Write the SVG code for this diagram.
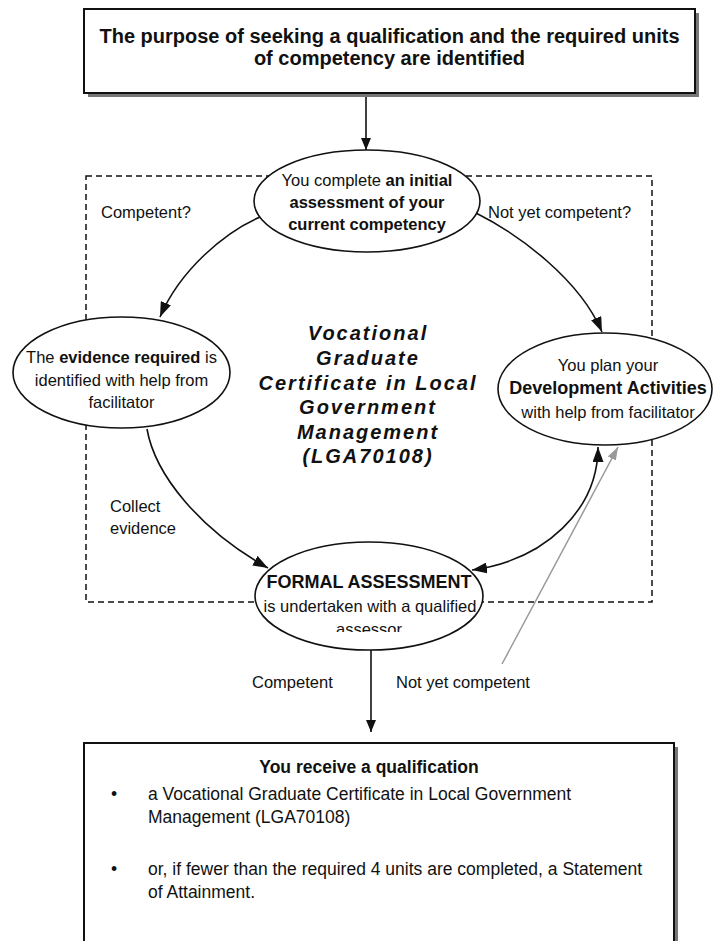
<svg xmlns="http://www.w3.org/2000/svg" width="713" height="941" viewBox="0 0 713 941">
<style>
text{font-family:"Liberation Sans",Arial,sans-serif;fill:#111}
.t{font-size:16.5px}
.b{font-weight:bold}
.ttl{font-size:20px;font-weight:bold}
.voc{font-size:20px;font-weight:bold;font-style:italic;letter-spacing:2px}
.bx{font-size:17.5px}
.node{fill:#fff;stroke:#111;stroke-width:1.6}
.box{fill:#fff;stroke:#111;stroke-width:2}
.shadow{fill:#777}
.con{fill:none;stroke:#111;stroke-width:1.6}
.gray{fill:none;stroke:#999;stroke-width:1.5}
.dash{fill:none;stroke:#111;stroke-width:1.5;stroke-dasharray:6 4}
</style>
<defs>
<marker id="ah" markerWidth="15" markerHeight="11" refX="15" refY="5.5" orient="auto-start-reverse" markerUnits="userSpaceOnUse"><path d="M0,0 L15,5.5 L0,11 z" fill="#111"/></marker>
<marker id="ahs" markerWidth="12" markerHeight="10" refX="12" refY="5" orient="auto" markerUnits="userSpaceOnUse"><path d="M0,0 L12,5 L0,10 z" fill="#111"/></marker>
<marker id="ahg" markerWidth="13" markerHeight="9" refX="13" refY="4.5" orient="auto" markerUnits="userSpaceOnUse"><path d="M0,0 L13,4.5 L0,9 z" fill="#999"/></marker>
<clipPath id="clipA"><rect x="250" y="600" width="240" height="32"/></clipPath>
</defs>
<rect width="713" height="941" fill="#fff"/>

<g id="boundary">
<rect class="dash" x="86" y="176" width="566" height="426"/>
</g>

<g id="title-box">
<rect class="shadow" x="88" y="13" width="611" height="84"/>
<rect class="box" x="84" y="9" width="611" height="84"/>
<text class="ttl" x="389.5" y="43" text-anchor="middle">The purpose of seeking a qualification and the required units</text>
<text class="ttl" x="389.5" y="65" text-anchor="middle">of competency are identified</text>
</g>

<g id="centre-label">
<text class="voc" x="368" y="340" text-anchor="middle">Vocational</text>
<text class="voc" x="368" y="365" text-anchor="middle">Graduate</text>
<text class="voc" x="368" y="390" text-anchor="middle">Certificate in Local</text>
<text class="voc" x="368" y="414" text-anchor="middle">Government</text>
<text class="voc" x="368" y="439" text-anchor="middle">Management</text>
<text class="voc" x="368" y="463" text-anchor="middle">(LGA70108)</text>
</g>

<g id="connectors">
<path class="con" d="M366,97 L366,150" marker-end="url(#ahs)"/>
<path class="con" d="M260,217 C225,232 180,270 160,317" marker-end="url(#ah)"/>
<path class="con" d="M476,213 C520,235 580,280 602,332" marker-end="url(#ah)"/>
<path class="con" d="M147,429 C155,475 200,530 268,568" marker-end="url(#ah)"/>
<path class="con" d="M472,570 C545,560 598,510 598,447" marker-start="url(#ah)" marker-end="url(#ah)"/>
<path class="gray" d="M502,664 L618,447" marker-end="url(#ahg)"/>
<path class="con" d="M371,650 L371,732" marker-end="url(#ahs)"/>
<text class="t" x="101" y="218">Competent?</text>
<text class="t" x="488" y="218">Not yet competent?</text>
<text class="t" x="110" y="512">Collect</text>
<text class="t" x="110" y="534">evidence</text>
<text class="t" x="252" y="688">Competent</text>
<text class="t" x="396" y="688">Not yet competent</text>
</g>

<g id="initial-assessment">
<ellipse class="node" cx="367" cy="201" rx="113" ry="51"/>
<text class="t" x="367" y="186" text-anchor="middle">You complete <tspan class="b">an initial</tspan></text>
<text class="t b" x="367" y="208" text-anchor="middle">assessment of your</text>
<text class="t b" x="367" y="230" text-anchor="middle">current competency</text>
</g>

<g id="evidence-required">
<ellipse class="node" cx="121.5" cy="372.5" rx="108.5" ry="55.5"/>
<text class="t" x="121.5" y="363" text-anchor="middle">The <tspan class="b">evidence required</tspan> is</text>
<text class="t" x="121.5" y="386" text-anchor="middle">identified with help from</text>
<text class="t" x="121.5" y="408" text-anchor="middle">facilitator</text>
</g>

<g id="development-activities">
<ellipse class="node" cx="605" cy="389" rx="107" ry="56"/>
<text class="t" x="608" y="371" text-anchor="middle">You plan your</text>
<text class="b" x="608" y="394" text-anchor="middle" font-size="18">Development Activities</text>
<text class="t" x="608" y="418" text-anchor="middle">with help from facilitator</text>
</g>

<g id="formal-assessment">
<ellipse class="node" cx="369" cy="596" rx="114" ry="54"/>
<text class="b" x="369" y="588" text-anchor="middle" font-size="18">FORMAL ASSESSMENT</text>
<text class="t" x="370" y="612" text-anchor="middle">is undertaken with a qualified</text>
<text class="t" x="369" y="635" text-anchor="middle" clip-path="url(#clipA)">assessor</text>
</g>

<g id="qualification-box">
<rect class="shadow" x="88" y="747" width="590" height="200"/>
<rect class="box" x="84" y="743" width="590" height="210"/>
<text class="bx b" x="369" y="773" text-anchor="middle">You receive a qualification</text>
<text class="bx" x="114" y="800" text-anchor="middle">•</text>
<text class="bx" x="148" y="800">a Vocational Graduate Certificate in Local Government</text>
<text class="bx" x="148" y="823">Management (LGA70108)</text>
<text class="bx" x="114" y="875" text-anchor="middle">•</text>
<text class="bx" x="148" y="875">or, if fewer than the required 4 units are completed, a Statement</text>
<text class="bx" x="148" y="898">of Attainment.</text>
</g>
</svg>
